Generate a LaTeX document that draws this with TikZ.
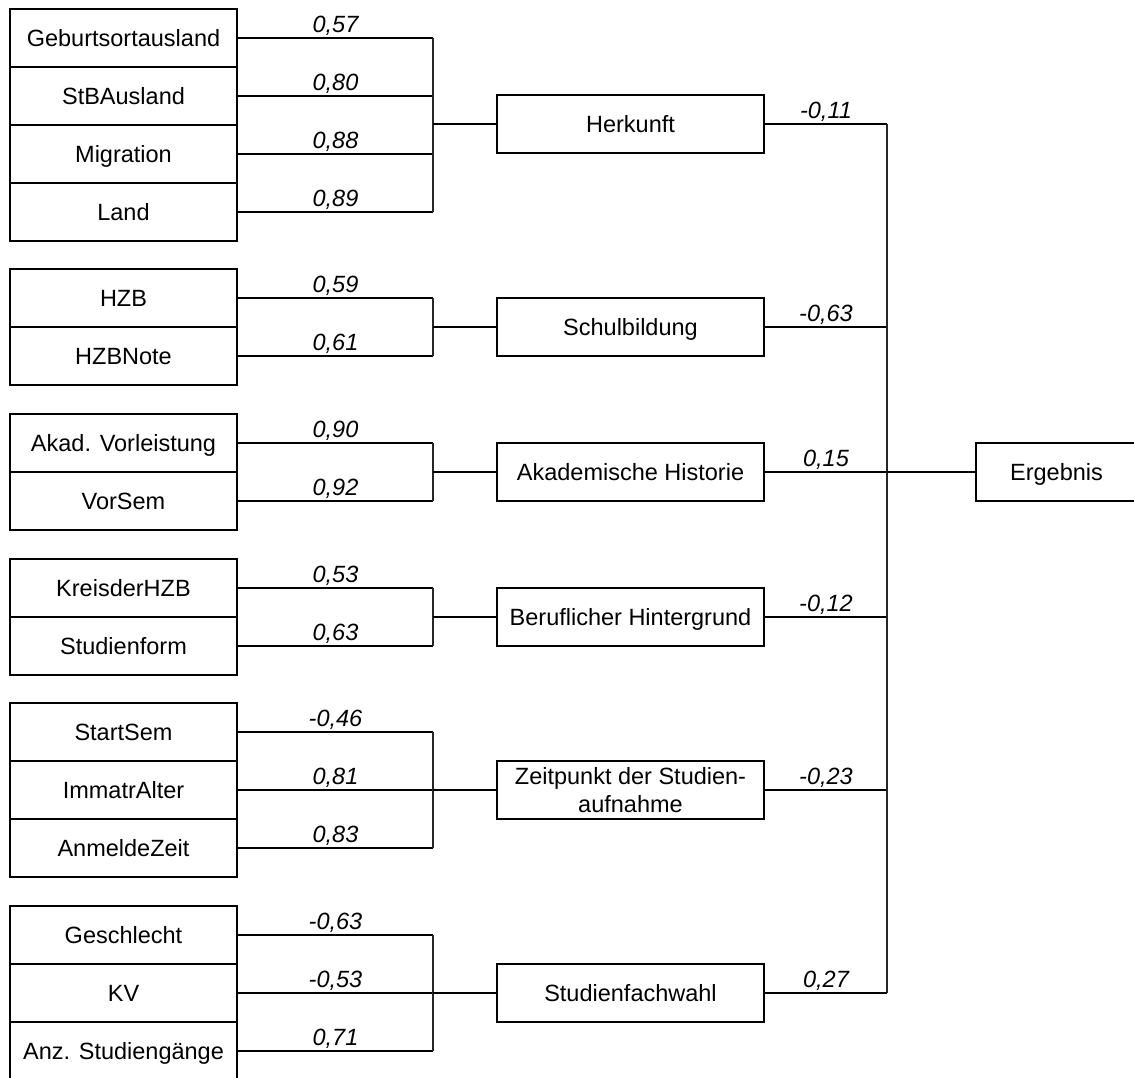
\documentclass[tikz,border=0pt]{standalone}
\usepackage{fontspec}
\setmainfont{Liberation Sans}
\begin{document}
\begin{tikzpicture}[x=1pt,y=-1pt,
  box/.style={draw, line width=2pt, inner sep=0pt, align=center,
    font=\fontsize{23.5}{28.5}\selectfont},
  oneline/.style={text height=17pt, text depth=1pt},
  leaf/.style={box, oneline, minimum width=227pt, minimum height=58pt},
  mid/.style={box, minimum width=267pt, minimum height=58pt},
  wire/.style={line width=2pt},
  vwire/.style={line width=1.5pt, black!85},
  wl/.style={midway, anchor=base, yshift=6pt, inner sep=0pt,
    font=\fontsize{23.5}{28}\selectfont\itshape},
]
\useasboundingbox (0,0) rectangle (1134,1077);

% leaf boxes
\node[leaf] (geb)  at (123.5,38) {Geburtsortausland};
\node[leaf] (stb)  at (123.5,96) {StBAusland};
\node[leaf] (mig)  at (123.5,154) {Migration};
\node[leaf] (land) at (123.5,212) {Land};

\node[leaf] (hzb)  at (123.5,298) {HZB};
\node[leaf] (hzbn) at (123.5,356) {HZBNote};

\node[leaf] (akv)  at (123.5,443) {Akad. Vorleistung};
\node[leaf] (vors) at (123.5,501) {VorSem};

\node[leaf] (kreis) at (123.5,588) {KreisderHZB};
\node[leaf] (stf)   at (123.5,646) {Studienform};

\node[leaf] (start) at (123.5,732) {StartSem};
\node[leaf] (imm)   at (123.5,790) {ImmatrAlter};
\node[leaf] (anm)   at (123.5,848) {AnmeldeZeit};

\node[leaf] (ges)  at (123.5,935) {Geschlecht};
\node[leaf] (kv)   at (123.5,993) {KV};
\node[leaf] (anz)  at (123.5,1051) {Anz. Studiengänge};

% middle boxes
\node[mid, oneline] (herk)  at (630.5,124) {Herkunft};
\node[mid, oneline] (schul) at (630.5,327) {Schulbildung};
\node[mid, oneline] (akad)  at (630.5,472) {Akademische Historie};
\node[mid, oneline] (beruf) at (630.5,617) {Beruflicher Hintergrund};
\node[mid] (zeit)  at (630.5,790) {Zeitpunkt der Studien-\\aufnahme};
\node[mid, oneline] (stfw)  at (630.5,993) {Studienfachwahl};

% result
\node[box, oneline, minimum width=161pt, minimum height=58pt] (erg) at (1056.5,472) {Ergebnis};

% bracket columns
\coordinate (bx) at (433,0);
\coordinate (sx) at (887,0);

% group 1
\draw[wire] (geb.east)  -- node[wl]{0,57} (geb.east -| bx);
\draw[wire] (stb.east)  -- node[wl]{0,80} (stb.east -| bx);
\draw[wire] (mig.east)  -- node[wl]{0,88} (mig.east -| bx);
\draw[wire] (land.east) -- node[wl]{0,89} (land.east -| bx);
\draw[vwire] (geb.east -| bx) -- (land.east -| bx);
\draw[wire] (herk.west -| bx) -- (herk.west);

% group 2
\draw[wire] (hzb.east)  -- node[wl]{0,59} (hzb.east -| bx);
\draw[wire] (hzbn.east) -- node[wl]{0,61} (hzbn.east -| bx);
\draw[vwire] (hzb.east -| bx) -- (hzbn.east -| bx);
\draw[wire] (schul.west -| bx) -- (schul.west);

% group 3
\draw[wire] (akv.east)  -- node[wl]{0,90} (akv.east -| bx);
\draw[wire] (vors.east) -- node[wl]{0,92} (vors.east -| bx);
\draw[vwire] (akv.east -| bx) -- (vors.east -| bx);
\draw[wire] (akad.west -| bx) -- (akad.west);

% group 4
\draw[wire] (kreis.east) -- node[wl]{0,53} (kreis.east -| bx);
\draw[wire] (stf.east)   -- node[wl]{0,63} (stf.east -| bx);
\draw[vwire] (kreis.east -| bx) -- (stf.east -| bx);
\draw[wire] (beruf.west -| bx) -- (beruf.west);

% group 5
\draw[wire] (start.east) -- node[wl]{-0,46} (start.east -| bx);
\draw[wire] (imm.east)   -- node[wl]{0,81} (imm.east -| bx);
\draw[wire] (anm.east)   -- node[wl]{0,83} (anm.east -| bx);
\draw[vwire] (start.east -| bx) -- (anm.east -| bx);
\draw[wire] (zeit.west -| bx) -- (zeit.west);

% group 6
\draw[wire] (ges.east) -- node[wl]{-0,63} (ges.east -| bx);
\draw[wire] (kv.east)  -- node[wl]{-0,53} (kv.east -| bx);
\draw[wire] (anz.east) -- node[wl]{0,71} (anz.east -| bx);
\draw[vwire] (ges.east -| bx) -- (anz.east -| bx);
\draw[wire] (stfw.west -| bx) -- (stfw.west);

% right side
\draw[wire] (herk.east)  -- node[wl]{-0,11} (herk.east -| sx);
\draw[wire] (schul.east) -- node[wl]{-0,63} (schul.east -| sx);
\draw[wire] (akad.east)  -- node[wl]{0,15} (akad.east -| sx);
\draw[wire] (beruf.east) -- node[wl]{-0,12} (beruf.east -| sx);
\draw[wire] (zeit.east)  -- node[wl]{-0,23} (zeit.east -| sx);
\draw[wire] (stfw.east)  -- node[wl]{0,27} (stfw.east -| sx);
\draw[vwire] (herk.east -| sx) -- (stfw.east -| sx);
\draw[wire] (akad.east -| sx) -- (erg.west);
\end{tikzpicture}
\end{document}
